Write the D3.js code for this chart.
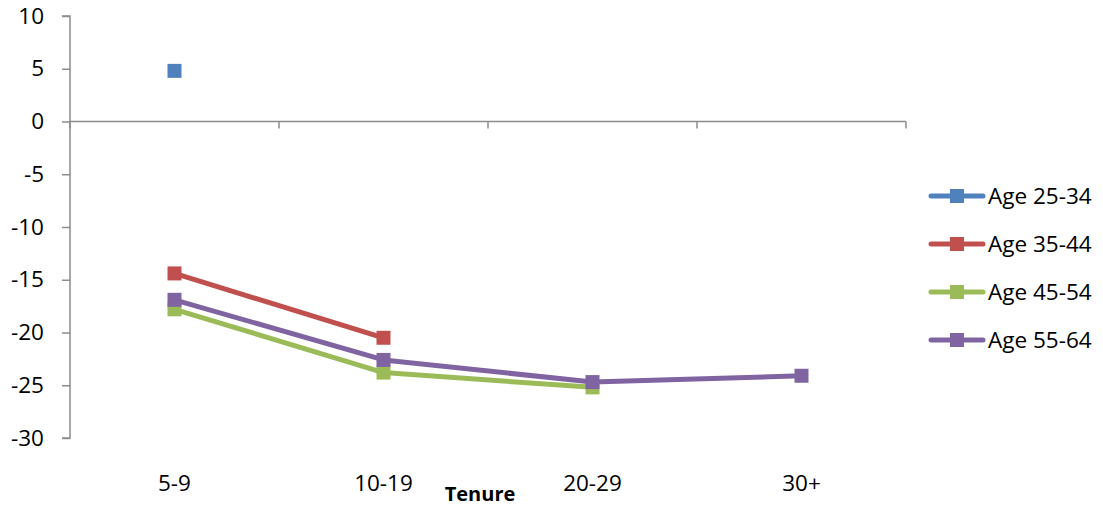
<!DOCTYPE html>
<html>
<head>
<meta charset="utf-8">
<script src="https://cdn.jsdelivr.net/npm/d3@7"></script>
<style>
  html, body { margin: 0; padding: 0; background: #fff; }
  svg { display: block; font-family: "Open Sans", "Liberation Sans", sans-serif; }
</style>
</head>
<body>
<svg id="chart" width="1103" height="508"></svg>
<script>
// Tenure bands along the x axis
const categories = ["5-9", "10-19", "20-29", "30+"];

// Change by age group for each tenure band (null = no value)
const age25_34 = [4.8, null, null, null];
const age35_44 = [-14.4, -20.5, null, null];
const age45_54 = [-17.8, -23.8, -25.2, null];
const age55_64 = [-16.9, -22.6, -24.7, -24.1];

const seriesNames = ["Age 25-34", "Age 35-44", "Age 45-54", "Age 55-64"];
const seriesColors = ["#4F81BD", "#C0504D", "#9BBB59", "#8064A2"];
const yTicks = [10, 5, 0, -5, -10, -15, -20, -25, -30];

const series = [age25_34, age35_44, age45_54, age55_64].map((vals, i) => ({
  name: seriesNames[i], color: seriesColors[i], values: vals
}));

const svg = d3.select("#chart");
const plot = { left: 70, right: 906, top: 16, bottom: 438 };
const fontSize = "22.5px";

const x = d3.scaleBand().domain(categories).range([plot.left, plot.right]);
const y = d3.scaleLinear().domain([-30, 10]).range([plot.bottom, plot.top]);

const axisColor = "#8c8c8c";

// Y axis with outward ticks; plain hyphen for negatives
const yAxis = svg.append("g")
  .attr("transform", `translate(${plot.left},0)`)
  .call(d3.axisLeft(y).tickValues(yTicks).tickSize(8).tickPadding(18).tickFormat(d => String(d)));
yAxis.select(".domain").attr("stroke", axisColor).attr("stroke-width", 1.5).attr("d", `M-8,${y(10)}H0V${y(-30)}H-8`);
yAxis.selectAll(".tick line").attr("stroke", axisColor).attr("stroke-width", 1.5);
yAxis.selectAll(".tick text").attr("fill", "#000").style("font-size", fontSize)
  .style("font-family", "\"Open Sans\", sans-serif");

// Category axis sits on y = 0, labels placed at the bottom
const xAxis = svg.append("g").attr("transform", `translate(0,${y(0)})`);
xAxis.append("line").attr("x1", plot.left).attr("x2", plot.right)
  .attr("stroke", axisColor).attr("stroke-width", 1.5);
const boundaries = categories.map(c => x(c)).concat([x(categories[categories.length - 1]) + x.bandwidth()]);
xAxis.selectAll("line.tick").data(boundaries).join("line").attr("class", "tick")
  .attr("x1", d => d).attr("x2", d => d).attr("y1", 0).attr("y2", 7)
  .attr("stroke", axisColor).attr("stroke-width", 1.5);

svg.append("g").selectAll("text").data(categories).join("text")
  .attr("x", d => x(d) + x.bandwidth() / 2).attr("y", 491)
  .attr("text-anchor", "middle").style("font-size", fontSize).text(d => d);

svg.append("text").attr("x", 480).attr("y", 501).attr("text-anchor", "middle")
  .style("font-size", "20px").style("font-weight", "bold").text("Tenure");

// Series lines and markers
const cx = d => x(d) + x.bandwidth() / 2;
const line = d3.line()
  .defined(d => d.v !== null)
  .x(d => cx(d.c)).y(d => y(d.v));

const ms = 14;
series.forEach(s => {
  const pts = s.values.map((v, i) => ({ c: categories[i], v }));
  svg.append("path").datum(pts).attr("d", line)
    .attr("fill", "none").attr("stroke", s.color).attr("stroke-width", 5)
    .attr("stroke-linejoin", "round");
  svg.append("g").selectAll("rect").data(pts.filter(p => p.v !== null)).join("rect")
    .attr("x", p => cx(p.c) - ms / 2).attr("y", p => y(p.v) - ms / 2)
    .attr("width", ms).attr("height", ms).attr("fill", s.color);
});

// Legend
const legend = svg.append("g");
const legendY = [196, 244, 292, 340];
series.forEach((s, i) => {
  const g = legend.append("g").attr("transform", `translate(0,${legendY[i]})`);
  g.append("line").attr("x1", 931).attr("x2", 983).attr("y1", 0).attr("y2", 0)
    .attr("stroke", s.color).attr("stroke-width", 5).attr("stroke-linecap", "round");
  g.append("rect").attr("x", 957 - ms / 2).attr("y", -ms / 2).attr("width", ms).attr("height", ms)
    .attr("fill", s.color);
  g.append("text").attr("x", 988).attr("y", 0).attr("dy", "0.35em")
    .style("font-size", fontSize).text(s.name);
});
</script>
</body>
</html>
